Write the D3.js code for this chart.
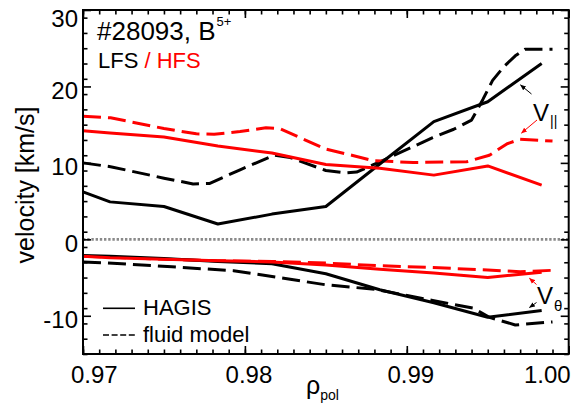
<!DOCTYPE html>
<html><head><meta charset="utf-8">
<script src="https://cdn.jsdelivr.net/npm/d3@7"></script>
<style>
html,body{margin:0;padding:0;background:#fff;}
svg{display:block;font-family:"Liberation Sans",Arial,Helvetica,sans-serif;}
</style></head><body>
<svg id="chart" width="579" height="407"></svg>
<script>
// Axis ticks
const xTicks = [0.97, 0.98, 0.99, 1.00];
const yTicks = [-10, 0, 10, 20, 30];

// HAGIS simulation grid (rho_pol)
const hagisRho = [0.97, 0.97167, 0.975, 0.97833, 0.98167, 0.985, 0.98833, 0.99167, 0.995, 0.99833];
const hagisParLFS = [6.2, 4.9, 4.3, 2.0, 3.3, 4.3, 9.85, 15.4, 18.0, 23.0];
const hagisParHFS = [14.2, 13.9, 13.4, 12.2, 11.3, 9.8, 9.3, 8.4, 9.6, 7.1];
const hagisPolLFS = [-2.1, -2.2, -2.5, -2.9, -3.2, -4.5, -6.6, -8.3, -10.2, -9.3];
const hagisPolHFS = [-2.2, -2.4, -2.6, -2.8, -2.95, -3.35, -3.9, -4.4, -5.0, -4.3];

// Fluid model profiles
const fluidParLFSRho = [0.970, 0.9717, 0.975, 0.9768, 0.9778, 0.9797, 0.9818, 0.9828, 0.9850, 0.9862, 0.9869, 0.9883, 0.9916, 0.9929, 0.9940, 0.9947, 0.9953, 0.9960, 0.9967, 0.9973, 0.9990];
const fluidParLFS = [10.0, 9.5, 8.0, 7.25, 7.3, 9.1, 11.0, 10.7, 9.0, 8.7, 8.8, 10.1, 13.3, 14.4, 15.6, 18.3, 20.8, 22.6, 24.0, 24.86, 24.86];
const fluidParHFSRho = [0.970, 0.9717, 0.975, 0.9770, 0.9781, 0.9797, 0.9813, 0.9822, 0.9850, 0.9866, 0.9879, 0.9904, 0.9937, 0.9951, 0.9962, 0.9970, 0.9990];
const fluidParHFS = [16.1, 15.9, 14.5, 13.8, 13.75, 14.1, 14.6, 14.45, 11.8, 11.0, 10.3, 10.05, 10.15, 11.0, 12.5, 13.1, 12.85];
const fluidPolLFSRho = [0.970, 0.9724, 0.9755, 0.9793, 0.9824, 0.9850, 0.9881, 0.9916, 0.9941, 0.9951, 0.9967, 0.9990];
const fluidPolLFS = [-2.95, -3.2, -3.6, -4.1, -5.1, -5.95, -6.55, -8.0, -9.0, -10.2, -11.2, -10.8];
const fluidPolHFSRho = [0.970, 0.975, 0.9783, 0.9817, 0.985, 0.9883, 0.9916, 0.9950, 0.9970, 0.9990];
const fluidPolHFS = [-2.2, -2.6, -2.8, -2.9, -3.1, -3.45, -3.7, -4.0, -4.24, -4.05];

const svg = d3.select("#chart");
const L = 83, R = 568.7, T = 10, B = 354;
const x = d3.scaleLinear().domain([0.97, 1.00]).range([L, R]);
const y = d3.scaleLinear().domain([-15, 30]).range([B, T]);

const RED = "#ff0000", BLACK = "#000000";
const DASH = "18,7";

// zero reference line
svg.append("line")
  .attr("x1", x(0.97)).attr("x2", x(1.00))
  .attr("y1", y(0)).attr("y2", y(0))
  .attr("stroke", "#8a8a8a").attr("stroke-width", 2.6)
  .attr("stroke-dasharray", "2.4,1.8");

const line = d3.line().x(d => x(d[0])).y(d => y(d[1]));
const series = [
  [fluidParLFSRho, fluidParLFS, BLACK, DASH],
  [fluidParHFSRho, fluidParHFS, RED, DASH],
  [fluidPolLFSRho, fluidPolLFS, BLACK, DASH],
  [fluidPolHFSRho, fluidPolHFS, RED, DASH],
  [hagisRho, hagisParLFS, BLACK, null],
  [hagisRho, hagisParHFS, RED, null],
  [hagisRho, hagisPolLFS, BLACK, null],
  [hagisRho, hagisPolHFS, RED, null]
];
series.forEach(([xs, ys, col, dash]) => {
  svg.append("path")
    .datum(d3.zip(xs, ys))
    .attr("d", line)
    .attr("fill", "none")
    .attr("stroke", col)
    .attr("stroke-width", 3)
    .attr("stroke-linejoin", "round")
    .attr("stroke-dasharray", dash);
});

// frame with inward ticks on all four sides
const ax = svg.append("g").attr("stroke", "#000").attr("fill", "none");
const xMinor = d3.range(0, 31).map(i => 0.97 + i * 0.001);
const yMinor = d3.range(-15, 31, 2);
function styleAxis(g) {
  g.select(".domain").remove();
  g.selectAll("line").attr("stroke", "#000").attr("stroke-width", 1.6);
  g.selectAll("text").remove();
}
svg.append("g").attr("transform", `translate(0,${B})`)
  .call(d3.axisBottom(x).tickValues(xMinor).tickSize(-4.5)).call(styleAxis);
svg.append("g").attr("transform", `translate(0,${T})`)
  .call(d3.axisTop(x).tickValues(xMinor).tickSize(-4.5)).call(styleAxis);
svg.append("g").attr("transform", `translate(0,${B})`)
  .call(d3.axisBottom(x).tickValues(xTicks).tickSize(-8)).call(styleAxis);
svg.append("g").attr("transform", `translate(0,${T})`)
  .call(d3.axisTop(x).tickValues(xTicks).tickSize(-8)).call(styleAxis);
svg.append("g").attr("transform", `translate(${L},0)`)
  .call(d3.axisLeft(y).tickValues(yMinor).tickSize(-4.5)).call(styleAxis);
svg.append("g").attr("transform", `translate(${R},0)`)
  .call(d3.axisRight(y).tickValues(yMinor).tickSize(-4.5)).call(styleAxis);
svg.append("g").attr("transform", `translate(${L},0)`)
  .call(d3.axisLeft(y).tickValues(yTicks).tickSize(-8)).call(styleAxis);
svg.append("g").attr("transform", `translate(${R},0)`)
  .call(d3.axisRight(y).tickValues(yTicks).tickSize(-8)).call(styleAxis);
svg.append("rect")
  .attr("x", L).attr("y", T).attr("width", R - L).attr("height", B - T)
  .attr("fill", "none").attr("stroke", "#000").attr("stroke-width", 2);

// tick labels
const fmtX = d3.format(".2f");
svg.append("g").selectAll("text").data(xTicks).join("text")
  .attr("x", (d, i) => i === 0 ? x(d) - 12 : i === xTicks.length - 1 ? x(d) + 2 : x(d) + 4)
  .attr("y", 383)
  .attr("text-anchor", (d, i) => i === 0 ? "start" : i === xTicks.length - 1 ? "end" : "middle")
  .attr("font-size", 24)
  .text(fmtX);
svg.append("g").selectAll("text").data(yTicks).join("text")
  .attr("x", 78)
  .attr("y", d => d === 30 ? 27 : y(d) + 12.5)
  .attr("text-anchor", "end")
  .attr("font-size", 24)
  .text(d => d);

// axis titles
svg.append("text")
  .attr("transform", `translate(34,${(T + B) / 2 + 3}) rotate(-90)`)
  .attr("text-anchor", "middle")
  .attr("font-size", 25)
  .text("velocity [km/s]");
const xt = svg.append("text").attr("x", 306).attr("y", 394).attr("font-size", 25);
xt.append("tspan").text("ρ");
xt.append("tspan").attr("font-size", 14).attr("dy", 6).text("pol");

// header labels
const h = svg.append("text").attr("x", 97).attr("y", 40).attr("font-size", 26);
h.append("tspan").text("#28093, B");
h.append("tspan").attr("font-size", 13).attr("dy", -14).attr("dx", 1).text("5+");
const s = svg.append("text").attr("x", 98).attr("y", 68).attr("font-size", 22);
s.append("tspan").attr("fill", BLACK).text("LFS ");
s.append("tspan").attr("fill", RED).text("/ HFS");

// legend
const legend = [["HAGIS", null, 308.3, 315], ["fluid model", "6,2.6", 335, 341.7]];
legend.forEach(([label, dash, ly, ty]) => {
  svg.append("line").attr("x1", 103).attr("x2", 135).attr("y1", ly).attr("y2", ly)
    .attr("stroke", "#000").attr("stroke-width", 1.6).attr("stroke-dasharray", dash);
  svg.append("text").attr("x", 143).attr("y", ty).attr("font-size", 22).text(label);
});

// component labels with pointer arrows
const defs = svg.append("defs");
[["ahB", BLACK], ["ahR", RED]].forEach(([id, col]) => {
  defs.append("marker").attr("id", id).attr("viewBox", "0 0 10 10")
    .attr("refX", 9).attr("refY", 5).attr("markerWidth", 6).attr("markerHeight", 6)
    .attr("orient", "auto")
    .append("path").attr("d", "M0,1 L10,5 L0,9 Z").attr("fill", col);
});
const arrows = [
  [531.5, 94, 520.5, 85, BLACK, "ahB"],
  [537, 120, 521.5, 133, RED, "ahR"],
  [536.5, 284.5, 529.5, 278.3, RED, "ahR"],
  [536.5, 302.5, 529.5, 307.5, BLACK, "ahB"]
];
arrows.forEach(([x1, y1, x2, y2, col, m]) => {
  svg.append("line").attr("x1", x1).attr("y1", y1).attr("x2", x2).attr("y2", y2)
    .attr("stroke", col).attr("stroke-width", 1).attr("marker-end", `url(#${m})`);
});
const vp = svg.append("text").attr("x", 533).attr("y", 121).attr("font-size", 24);
vp.append("tspan").text("V");
vp.append("tspan").attr("font-size", 14).attr("dy", 5).attr("dx", 1).text("||");
const vt = svg.append("text").attr("x", 537).attr("y", 304).attr("font-size", 24);
vt.append("tspan").text("V");
vt.append("tspan").attr("font-size", 15).attr("dy", 7).attr("dx", 1).text("θ");
</script>
</body></html>
